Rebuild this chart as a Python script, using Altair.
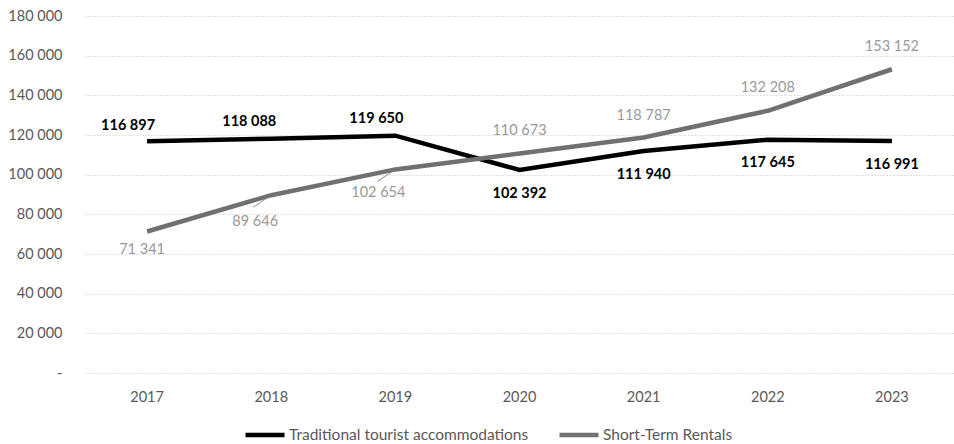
import altair as alt
import pandas as pd

years = ["2017", "2018", "2019", "2020", "2021", "2022", "2023"]
traditional = [116897, 118088, 119650, 102392, 111940, 117645, 116991]
short_term = [71341, 89646, 102654, 110673, 118787, 132208, 153152]
series_names = ["Traditional tourist accommodations", "Short-Term Rentals"]
y_ticks = [0, 20000, 40000, 60000, 80000, 100000, 120000, 140000, 160000, 180000]

# label placement offsets in pixels (styling, not data)
trad_dx = [-19, -22, -19, 0, 0, 0, 0]
trad_dy = [-15, -17, -17, 24, 24, 23, 24]
str_dx = [-5, -16, -17, 0, 0, 0, 0]
str_dy = [18, 27, 24, -22, -21, -23, -22]

rows = []
for i, y in enumerate(years):
    rows.append({"year": y, "series": series_names[0], "value": traditional[i]})
for i, y in enumerate(years):
    rows.append({"year": y, "series": series_names[1], "value": short_term[i]})
df = pd.DataFrame(rows)

FONT = "Lato"
x_enc = alt.X("year:O", title=None,
              axis=alt.Axis(labelAngle=0, ticks=False, tickSize=0, domain=False,
                            labelPadding=17, labelFont=FONT, labelFontSize=14.5,
                            labelColor="#595959", grid=False))
y_enc = alt.Y("value:Q", title=None,
              scale=alt.Scale(domain=[0, 180000], nice=False),
              axis=alt.Axis(values=y_ticks, tickCount=20, ticks=False, tickSize=0,
                            domain=False, labelOverlap=False,
                            labelPadding=23, labelFont=FONT, labelFontSize=14.5,
                            labelColor="#595959", grid=True, gridColor="#c4c4c4",
                            gridDash=[1, 2], gridWidth=1,
                            labelExpr="datum.value == 0 ? '-' : replace(format(datum.value, ','), ',', ' ')"))

base = alt.Chart(df).transform_calculate(
    label="replace(format(datum.value, ','), ',', ' ')"
).encode(x=x_enc, y=y_enc)

lines = base.mark_line(strokeWidth=4.5).encode(
    color=alt.Color("series:N",
                    scale=alt.Scale(domain=series_names, range=["#000000", "#707070"]),
                    legend=alt.Legend(title=None, orient="none", direction="horizontal",
                                      columns=2, legendX=158, legendY=397,
                                      symbolType="stroke", symbolSize=1521,
                                      symbolStrokeWidth=4.5, labelFont=FONT,
                                      labelFontSize=15.5, labelColor="#595959",
                                      labelLimit=500,
                                      columnPadding=21, labelOffset=2)),
)

leaders = base.transform_filter(
    f"datum.series == '{series_names[1]}' && (datum.year == '2018' || datum.year == '2019')"
).mark_rule(color="#8a8a8a", strokeWidth=1, xOffset=-18, yOffset=12,
            x2Offset=-3, y2Offset=2).encode(
    x2="year:O", y2="value:Q"
)

label_layers = []
for s_idx, (name, dxs, dys) in enumerate([(series_names[0], trad_dx, trad_dy),
                                           (series_names[1], str_dx, str_dy)]):
    for i, yr in enumerate(years):
        style = dict(font=FONT, fontSize=14.5, baseline="middle", dx=dxs[i], dy=dys[i])
        if s_idx == 0:
            style.update(fontWeight="bold", color="#000000")
        else:
            style.update(color="#999999")
        label_layers.append(
            base.transform_filter(
                f"datum.series == '{name}' && datum.year == '{yr}'"
            ).mark_text(**style).encode(text="label:N")
        )

chart = alt.layer(lines, leaders, *label_layers).properties(
    width=869, height=357,
    autosize=alt.AutoSizeParams(type="none"),
    padding={"left": 85, "top": 16, "right": 0, "bottom": 71},
    background="white",
).configure_view(stroke=None)

chart.save("out.html", embed_options={"renderer": "svg", "actions": False})
